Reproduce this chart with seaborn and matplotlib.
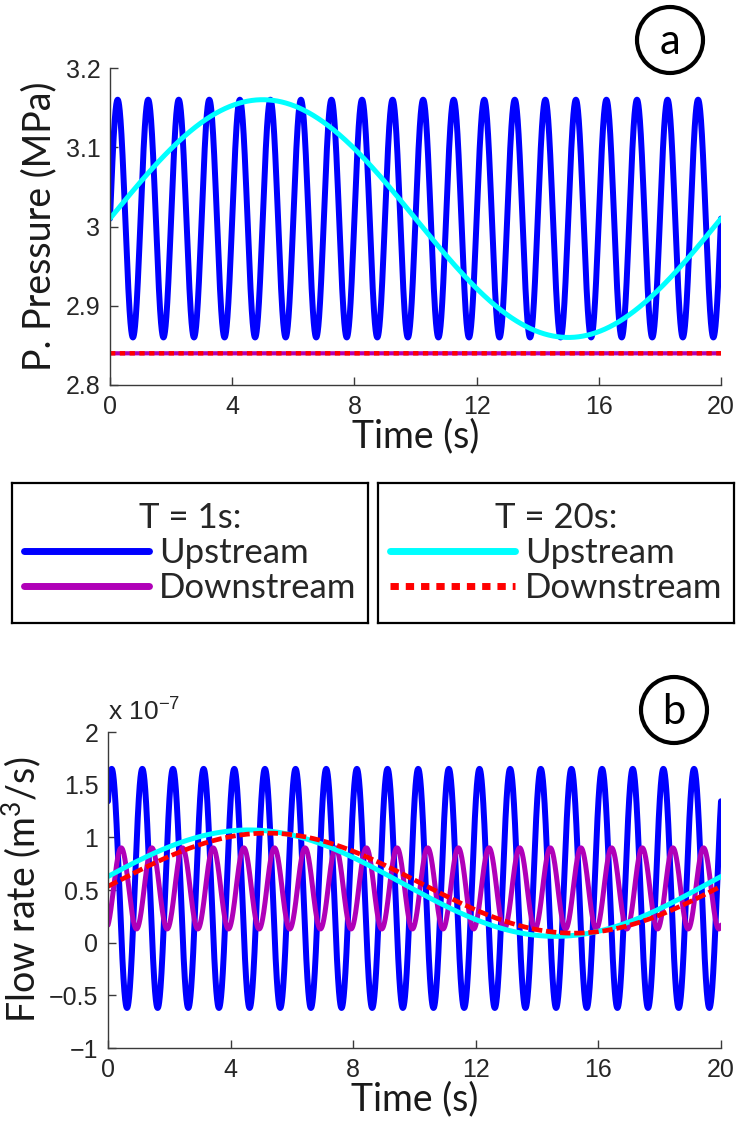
import numpy as np
import pandas as pd
import matplotlib
matplotlib.use("Agg")
import matplotlib.pyplot as plt
import seaborn as sns
from matplotlib.patches import Ellipse
from matplotlib.lines import Line2D
from matplotlib.ticker import FuncFormatter, FixedLocator

# ---------------- data ----------------
series_names = ["T = 1s Upstream", "T = 1s Downstream", "T = 20s Upstream", "T = 20s Downstream"]
periods_s = [1.0, 1.0, 20.0, 20.0]

# panel (a): pore pressure, MPa  (mean level, half-amplitude, time of first peak)
pressure_mean = [3.01, 2.84, 3.01, 2.84]
pressure_amp = [0.15, 0.0, 0.15, 0.0]
pressure_peak_t = [0.25, 0.25, 5.0, 5.0]

# panel (b): flow rate in units of 1e-7 m^3/s
flow_mean = [0.515, 0.515, 0.565, 0.565]
flow_amp = [1.135, 0.385, 0.505, 0.475]
flow_peak_t = [0.12, 0.43, 4.6, 5.2]

time_span = [0.0, 20.0]
x_ticks = [0, 4, 8, 12, 16, 20]
pressure_ticks = [2.8, 2.9, 3.0, 3.1, 3.2]
flow_ticks = [-1, -0.5, 0, 0.5, 1, 1.5, 2]
legend_titles = ["T = 1s:", "T = 20s:"]
legend_labels = ["Upstream", "Downstream"]

# ---------------- build long tables ----------------
t = np.linspace(time_span[0], time_span[1], 4001)
rows_p, rows_q = [], []
for i, name in enumerate(series_names):
    p = pressure_mean[i] + pressure_amp[i] * np.cos(2 * np.pi * (t - pressure_peak_t[i]) / periods_s[i])
    q = flow_mean[i] + flow_amp[i] * np.cos(2 * np.pi * (t - flow_peak_t[i]) / periods_s[i])
    rows_p.append(pd.DataFrame({"time": t, "value": p, "series": name}))
    rows_q.append(pd.DataFrame({"time": t, "value": q, "series": name}))
df_p = pd.concat(rows_p, ignore_index=True)
df_q = pd.concat(rows_q, ignore_index=True)

# ---------------- style ----------------
sns.set_theme(style="ticks")
plt.rcParams["font.family"] = ["Liberation Sans", "DejaVu Sans"]
plt.rcParams["mathtext.default"] = "regular"
LABEL_FONT = ["Lato", "Liberation Sans", "DejaVu Sans"]

colors = ["#0000FF", "#B000B8", "#00FFFF", "#FF0000"]
widths_a = [4.3, 3.0, 3.6, 3.2]
widths_b = [4.3, 3.6, 3.6, 3.4]
styles_a = ["-", "-", "-", (0, (1.2, 1.0))]
styles_b = ["-", "-", "-", (0, (2.2, 0.8))]

W, H = 738, 1126
fig = plt.figure(figsize=(W / 100, H / 100), dpi=100)

def px_axes(l, t_, r, b):
    return fig.add_axes([l / W, 1 - b / H, (r - l) / W, (b - t_) / H])

spine_col = "#3a3a3a"

def style_axes(ax):
    for s in ["top", "right"]:
        ax.spines[s].set_visible(False)
    for s in ["left", "bottom"]:
        ax.spines[s].set_color(spine_col)
        ax.spines[s].set_linewidth(1.0)
    ax.tick_params(direction="in", length=6, width=1.0, color=spine_col,
                   labelsize=18, labelcolor="#262626", pad=7)
    ax.set_xlim(time_span)
    ax.xaxis.set_major_locator(FixedLocator(x_ticks))
    ax.xaxis.set_major_formatter(FuncFormatter(lambda v, p: f"{v:g}"))
    ax.set_xlabel("Time (s)", family=LABEL_FONT, fontsize=27, color="#1a1a1a", labelpad=0)

fmt = FuncFormatter(lambda v, p: f"{v:g}".replace("-", "\u2212"))

# ---------- panel a ----------
ax1 = px_axes(110, 68, 721, 385)
for i, name in enumerate(series_names):
    sub = df_p[df_p["series"] == name]
    sns.lineplot(data=sub, x="time", y="value", ax=ax1, color=colors[i],
                 linewidth=widths_a[i], linestyle=styles_a[i], estimator=None,
                 sort=False, legend=False, dash_capstyle="butt")
style_axes(ax1)
ax1.set_ylim(pressure_ticks[0], pressure_ticks[-1])
ax1.yaxis.set_major_locator(FixedLocator(pressure_ticks))
ax1.yaxis.set_major_formatter(fmt)
ax1.set_ylabel("P. Pressure (MPa)", family=LABEL_FONT, fontsize=27, color="#1a1a1a", labelpad=6)

# ---------- panel b ----------
ax2 = px_axes(108, 732, 721, 1048)
for i, name in enumerate(series_names):
    sub = df_q[df_q["series"] == name]
    sns.lineplot(data=sub, x="time", y="value", ax=ax2, color=colors[i],
                 linewidth=widths_b[i], linestyle=styles_b[i], estimator=None,
                 sort=False, legend=False, dash_capstyle="butt")
style_axes(ax2)
ax2.set_ylim(flow_ticks[0], flow_ticks[-1])
ax2.yaxis.set_major_locator(FixedLocator(flow_ticks))
ax2.yaxis.set_major_formatter(fmt)
ax2.set_ylabel("Flow rate (m$^{3}$/s)", family=LABEL_FONT, fontsize=27, color="#1a1a1a", labelpad=4)
ax2.text(0.0, 1.02, "x 10$^{\u22127}$", transform=ax2.transAxes, fontsize=19,
         color="#262626", ha="left", va="bottom")

# ---------- legend boxes ----------
boxes = [(12, 483, 368, 623), (378, 483, 734, 623)]
for k, (l, tt, r, b) in enumerate(boxes):
    lax = px_axes(l, tt, r, b)
    lax.set_xticks([]); lax.set_yticks([])
    lax.set_facecolor("white")
    for s in lax.spines.values():
        s.set_visible(True); s.set_color("black"); s.set_linewidth(1.6)
    handles = []
    for j in range(2):
        i = 2 * k + j
        ls = styles_a[i] if i == 3 else "-"
        handles.append(Line2D([], [], color=colors[i], linewidth=5,
                              linestyle=ls, dash_capstyle="butt"))
    leg = lax.legend(handles, legend_labels, title=legend_titles[k], loc="center",
                     frameon=False, prop={"family": LABEL_FONT, "size": 25},
                     handlelength=3.6, handletextpad=0.3, labelspacing=0.1,
                     borderpad=0.0)
    leg.get_title().set_fontfamily(LABEL_FONT)
    leg.get_title().set_fontsize(25)

# ---------- circled panel letters ----------
for (cx, cy, letter) in [(670, 40, "a"), (674, 710, "b")]:
    e = Ellipse((cx / W, 1 - cy / H), 66 / W, 66 / H, transform=fig.transFigure,
                fill=False, edgecolor="black", linewidth=3)
    fig.add_artist(e)
    fig.text(cx / W, 1 - (cy + 2) / H, letter, family=LABEL_FONT, fontsize=30,
             ha="center", va="center", color="black")

fig.savefig("out.png", dpi=100, facecolor="white")
